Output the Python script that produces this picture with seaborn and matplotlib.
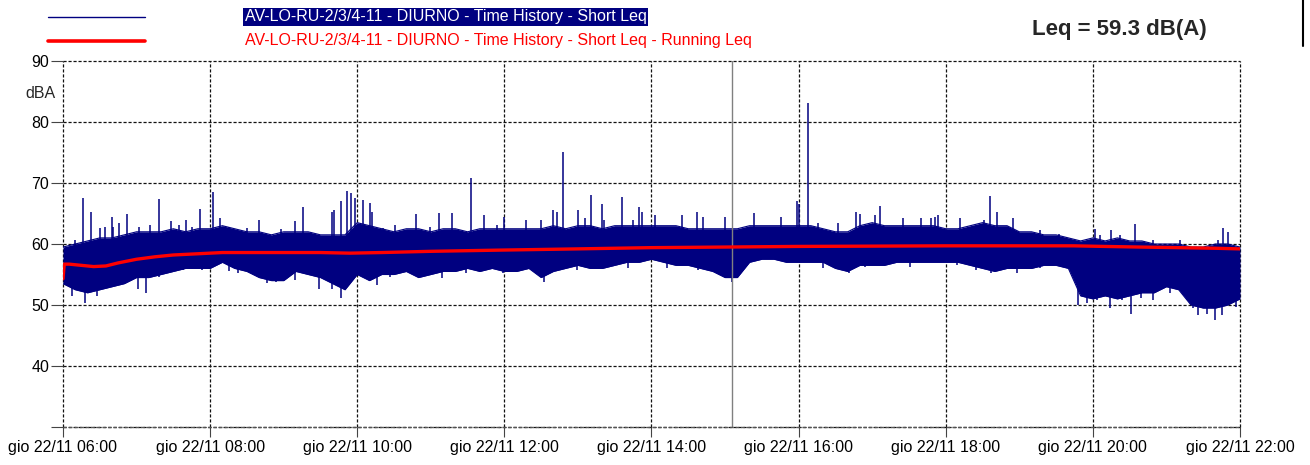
import numpy as np
import pandas as pd
import matplotlib
matplotlib.use("Agg")
import matplotlib.pyplot as plt
from matplotlib.lines import Line2D
import seaborn as sns

# ---------------- data ----------------
# minutes after 06:00, every 10 minutes
minutes = list(range(0, 961, 10))
short_hi = [59.5, 60, 60.5, 61, 61, 61.5, 62, 62, 62, 62.5,
            62, 62.5, 62.5, 63, 62.5, 62, 62, 61.5, 62, 62,
            62, 61.5, 61.5, 61.5, 63.5, 63, 62.5, 62, 62.5, 62.5,
            62, 62.5, 62.5, 62, 62.5, 62.5, 62.5, 62.5, 62.5, 62.5,
            63, 62.5, 63, 63, 62.5, 63, 63, 63, 63, 63,
            63, 62.5, 62.5, 62.5, 62.5, 62.5, 63, 63, 63, 63,
            63, 63, 62.5, 62, 62, 63, 63.5, 63, 63, 63,
            63, 63, 62.5, 62.5, 63, 63.5, 63, 63, 62, 62,
            61.5, 61.5, 61, 60.5, 61, 60.5, 61, 60.5, 60.5, 60,
            60, 60, 59.5, 59.5, 60, 60, 59.5]
short_lo = [53.5, 52.5, 52, 52.5, 53, 53.5, 54.5, 54.5, 55, 55.5,
            56, 56, 56, 57, 56, 55.5, 54.5, 54, 54, 55.5,
            55, 54.5, 53.5, 52.5, 55, 54, 55, 55, 55.5, 54.5,
            55, 55.5, 55.5, 56, 55.5, 56, 55.5, 55.5, 56, 54.5,
            55.5, 56, 56.5, 56, 56, 56.5, 57, 57, 57.5, 57,
            56.5, 56.5, 56, 55.5, 54.5, 54.5, 57, 57.5, 57.5, 57,
            57, 57, 57, 56, 55.5, 56.5, 56.5, 56.5, 57, 57,
            57, 57, 57, 57, 56.5, 56, 55.5, 56, 56, 56,
            56.5, 56.5, 56, 51.5, 51, 51.5, 51, 51.5, 52, 52,
            53, 52.5, 50, 49.5, 49.5, 50, 51]

# isolated peaks of the Short Leq (minute, dB)
spike_min = [10, 16, 23, 30, 34, 40, 41, 46, 52, 62, 71, 78, 88, 95, 100, 105,
             112, 122, 128, 135, 150, 160, 178, 189, 196, 211, 219, 221, 227,
             232, 235, 238, 245, 250, 252, 261, 271, 288, 299, 307, 317, 333,
             343, 354, 360, 378, 390, 400, 403, 408, 412, 420, 426, 431, 440,
             441, 456, 465, 470, 472, 483, 505, 517, 522, 540, 564, 586, 599,
             600, 608, 616, 632, 647, 650, 662, 666, 685, 700, 708, 711, 714,
             732, 751, 756, 762, 775, 797, 812, 842, 846, 855, 862, 874, 889,
             911, 942, 946, 950]
spike_val = [60.7, 67.5, 65.3, 62.6, 62.8, 64.5, 62.8, 63.4, 64.9, 62.8, 63.1,
             67.3, 63.8, 63.1, 64, 62.8, 65.7, 68.6, 64.2, 62.8, 62.6, 64, 62.4,
             63.7, 66.1, 61.2, 65.3, 65.6, 67, 68.7, 68.3, 67.5, 67.2, 66.8, 65.3,
             62.6, 63.1, 64.9, 62.8, 65, 65, 70.9, 64.7, 63.1, 64.5, 63.9, 63.9,
             65.5, 65.3, 75.1, 62.3, 65.5, 64.2, 68.0, 66.5, 63.9, 67.7, 63.9, 66,
             65.3, 64.8, 64.8, 65.3, 64.5, 64.5, 65.1, 64.5, 67, 66.5, 83.1, 63.4,
             63.4, 65.3, 64.9, 64.8, 66.2, 64.2, 64.2, 64.2, 64.5, 64.7, 64.2, 63.9,
             67.9, 65.2, 64.2, 62.3, 61.7, 62.5, 61.5, 62.3, 61.5, 63.2, 60.7, 60.7,
             60.7, 62.7, 62]

# isolated dips of the Short Leq (minute, dB)
dip_min = [7, 18, 23, 28, 38, 61, 68, 78, 98, 113, 135, 143, 166, 174, 189, 209,
           219, 227, 246, 256, 267, 276, 309, 329, 343, 359, 375, 392, 405, 419,
           437, 461, 477, 493, 505, 518, 530, 540, 546, 556, 594, 620, 627, 641,
           654, 671, 691, 715, 729, 745, 757, 778, 797, 819, 828, 835, 843, 854,
           864, 871, 879, 889, 903, 911, 922, 926, 933, 940, 945, 957]
dip_val = [51.4, 50.3, 52.5, 51.4, 54.1, 52.7, 51.9, 54.6, 55.7, 55.7, 55.5, 55.2,
           53.6, 53.8, 54.1, 52.7, 52.7, 51.1, 55.7, 53.3, 54.6, 55.5, 54.4, 55.2,
           55.5, 55.2, 56.3, 53.8, 55.7, 55.7, 56, 56, 57.4, 56, 57.1, 55.7, 55.5,
           54.6, 53.8, 56, 57.4, 56, 56.3, 55.2, 56.3, 56.6, 56.3, 57.1, 56.6, 55.7,
           55.2, 55.2, 56, 56, 50, 50.3, 50.8, 49.5, 50.8, 48.6, 51.1, 50.8, 51.9,
           52.4, 49.5, 48.4, 48.6, 47.5, 48.4, 49.7]

# running Leq
run_min = [0, 1, 5, 15, 25, 35, 45, 60, 75, 90, 110, 130, 150, 180, 210, 234,
           260, 300, 357, 420, 479, 540, 597, 660, 720, 780, 824, 850, 878, 910, 940, 960]
run_val = [54.3, 56.7, 56.7, 56.5, 56.3, 56.4, 56.9, 57.5, 57.9, 58.2, 58.4, 58.6, 58.6,
           58.6, 58.6, 58.5, 58.6, 58.8, 59.0, 59.2, 59.4, 59.5, 59.6, 59.65, 59.7, 59.7,
           59.7, 59.6, 59.5, 59.4, 59.3, 59.2]

tick_min = [0, 120, 240, 360, 480, 600, 720, 840, 960]
tick_labels = ["gio 22/11 06:00", "gio 22/11 08:00", "gio 22/11 10:00",
               "gio 22/11 12:00", "gio 22/11 14:00", "gio 22/11 16:00",
               "gio 22/11 18:00", "gio 22/11 20:00", "gio 22/11 22:00"]
y_ticks = [30, 40, 50, 60, 70, 80, 90]
y_labels = ["", "40", "50", "60", "70", "80", "90"]
cursor_min = 546

label_short = "AV-LO-RU-2/3/4-11 - DIURNO - Time History - Short Leq"
label_running = "AV-LO-RU-2/3/4-11 - DIURNO - Time History - Short Leq - Running Leq"
leq_text = "Leq = 59.3 dB(A)"

# ---------------- style ----------------
sns.set_theme(style="white")
plt.rcParams["font.family"] = ["Liberation Sans", "DejaVu Sans"]

NAVY = "#000080"
RED = "#ff0000"
W, H = 1310, 465
GRID_LS = (0, (2.5, 1.5))

fig = plt.figure(figsize=(W / 100, H / 100), dpi=100)
ax = fig.add_axes([63 / W, 1 - 427 / H, (1240 - 63) / W, (427 - 61) / H])

env = pd.DataFrame({"minute": minutes, "hi": short_hi, "lo": short_lo})
ax.fill_between(env["minute"], env["lo"], env["hi"], color=NAVY, lw=0)
sns.lineplot(data=env, x="minute", y="hi", color=NAVY, lw=0.8, ax=ax)
sns.lineplot(data=env, x="minute", y="lo", color=NAVY, lw=0.8, ax=ax)
ax.vlines(spike_min, 59, spike_val, color=NAVY, lw=1.1)
ax.vlines(dip_min, 57.5, dip_val, color=NAVY, lw=1.1)

ax.axvline(cursor_min, color="#808080", lw=1)

run = pd.DataFrame({"minute": run_min, "leq": run_val})
sns.lineplot(data=run, x="minute", y="leq", color=RED, lw=2.4, ax=ax)

ax.set_xlim(0, 960)
ax.set_ylim(30, 90)
ax.set_xticks(tick_min, tick_labels)
ax.set_yticks(y_ticks, y_labels)
ax.set_xlabel("")
ax.set_ylabel("")
ax.grid(True, color="#111111", linestyle=GRID_LS, lw=0.9)
for gl in ax.get_xgridlines() + ax.get_ygridlines():
    gl.set_clip_on(False)
ax.axhline(30, color="#555555", linestyle=GRID_LS, lw=1.0, clip_on=False)
for s in ax.spines.values():
    s.set_visible(False)
ax.tick_params(axis="y", left=True, length=9, width=0.8, color="#444444",
               pad=1, labelsize=11.5, labelcolor="black")
ax.tick_params(axis="x", bottom=True, length=7, width=0.8, color="#444444",
               pad=2.5, labelsize=11.5, labelcolor="black")

fig.text(40 / W, 1 - 93 / H, "dBA", ha="center", va="center", fontsize=11.5)

# legend
fig.add_artist(Line2D([48 / W, 145 / W], [1 - 17 / H] * 2, color=NAVY, lw=1))
fig.text(245 / W, 1 - 17 / H, label_short, color="white", fontsize=11.5, va="center",
         bbox=dict(boxstyle="square,pad=0.1", fc=NAVY, ec="none"))
fig.add_artist(Line2D([48 / W, 145 / W], [1 - 41 / H] * 2, color=RED, lw=2.6))
fig.text(245 / W, 1 - 41 / H, label_running, color=RED, fontsize=11.5, va="center")

fig.text(1032 / W, 1 - 30 / H, leq_text, fontsize=16, fontweight="bold", va="center")
fig.add_artist(Line2D([1303 / W] * 2, [1, 1 - 46 / H], color="black", lw=1.5))

fig.savefig("out.png", dpi=100)
